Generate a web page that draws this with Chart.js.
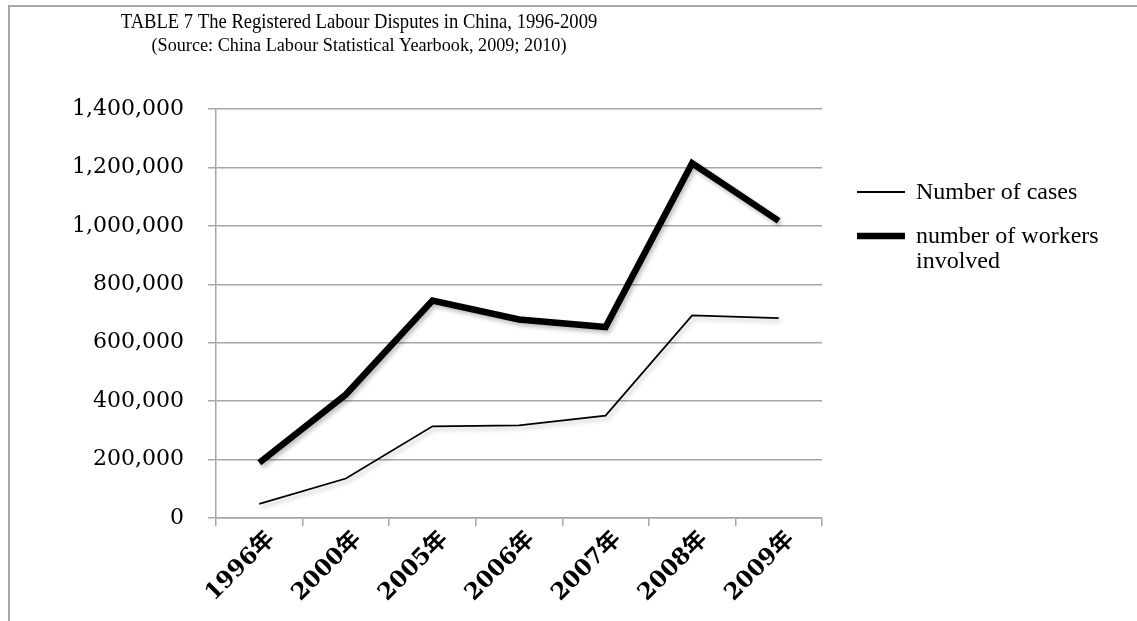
<!DOCTYPE html>
<html>
<head>
<meta charset="utf-8">
<title>Registered Labour Disputes in China</title>
<script src="https://cdn.jsdelivr.net/npm/chart.js@4/dist/chart.umd.min.js"></script>
<style>
  html, body { margin: 0; padding: 0; background: #fff; }
  #wrap { position: relative; width: 1137px; height: 621px; }
</style>
</head>
<body>
<div id="wrap"><canvas id="chart" width="1137" height="621"></canvas></div>
<script>
// data
const years = ['1996年', '2000年', '2005年', '2006年', '2007年', '2008年', '2009年'];
const cases = [48121, 135206, 313773, 317162, 350182, 693465, 684379];
const workers = [189120, 422617, 744195, 679312, 653472, 1214328, 1016922];
const seriesNames = ['Number of cases', ['number of workers', 'involved']];
const yMax = 1400000;
const yStep = 200000;
const titleLines = [
  'TABLE 7 The Registered Labour Disputes in China, 1996-2009',
  '(Source: China Labour Statistical Yearbook, 2009; 2010)'
];

const GRID = '#a6a6a6';
const SERIF = '"Liberation Serif", "Times New Roman", serif';

// texte un peu resserré horizontalement, comme dans l'original
function narrowText(ctx, text, x, y, size, squeeze) {
  ctx.save();
  ctx.font = size + 'px ' + SERIF;
  ctx.translate(x, y);
  ctx.scale(squeeze, 1);
  ctx.fillText(text, 0, 0);
  ctx.restore();
}

// cadre, titre et légende dessinés à la main
const decorPlugin = {
  id: 'decor',
  beforeDraw(chart) {
    const ctx = chart.ctx;
    ctx.save();
    ctx.strokeStyle = GRID;
    ctx.lineWidth = 2;
    ctx.beginPath();
    ctx.moveTo(9, 640);
    ctx.lineTo(9, 6);
    ctx.lineTo(1140, 6);
    ctx.stroke();
    ctx.restore();
  },
  afterDraw(chart) {
    const ctx = chart.ctx;
    ctx.save();
    ctx.fillStyle = '#000';
    ctx.textAlign = 'center';
    ctx.textBaseline = 'middle';
    narrowText(ctx, titleLines[0], 359, 22, 21, 0.886);
    narrowText(ctx, titleLines[1], 359, 46, 19.5, 0.933);

    // légende
    const rows = [193, 237];
    chart.data.datasets.forEach((ds, i) => {
      const y = rows[i];
      ctx.strokeStyle = ds.borderColor;
      ctx.lineWidth = ds.borderWidth;
      ctx.beginPath();
      ctx.moveTo(857, y - 1);
      ctx.lineTo(905, y - 1);
      ctx.stroke();
      ctx.font = '24px ' + SERIF;
      ctx.textAlign = 'left';
      const lines = Array.isArray(ds.label) ? ds.label : [ds.label];
      lines.forEach((t, k) => ctx.fillText(t, 916, y + k * 25));
    });
    ctx.restore();
  }
};

// ombre légère sous les courbes
const shadowPlugin = {
  id: 'lineShadow',
  beforeDatasetDraw(chart) {
    const ctx = chart.ctx;
    ctx.save();
    ctx.shadowColor = 'rgba(0,0,0,0.25)';
    ctx.shadowBlur = 4;
    ctx.shadowOffsetX = 2;
    ctx.shadowOffsetY = 3;
  },
  afterDatasetDraw(chart) {
    chart.ctx.restore();
  }
};

new Chart(document.getElementById('chart'), {
  type: 'line',
  data: {
    labels: years,
    datasets: [
      {
        label: seriesNames[0],
        data: cases,
        borderColor: '#000',
        borderWidth: 1.8,
        pointRadius: 0,
        tension: 0
      },
      {
        label: seriesNames[1],
        data: workers,
        borderColor: '#000',
        borderWidth: 6.5,
        borderJoinStyle: 'miter',
        pointRadius: 0,
        tension: 0
      }
    ]
  },
  options: {
    responsive: false,
    animation: false,
    layout: { padding: { top: 109, right: 315, left: 0, bottom: 0 } },
    plugins: {
      legend: { display: false },
      title: { display: false },
      tooltip: { enabled: false }
    },
    scales: {
      x: {
        offset: true,
        grid: {
          offset: true,
          drawOnChartArea: false,
          drawTicks: true,
          tickLength: 8,
          color: GRID,
          lineWidth: 1.5
        },
        border: { color: GRID, width: 1.5 },
        ticks: {
          minRotation: 45,
          maxRotation: 45,
          padding: 0,
          labelOffset: 12,
          color: '#000',
          font: { family: '"DejaVu Serif", "Noto Sans CJK SC", serif', size: 23, weight: 'bold' }
        },
        afterFit(scale) { scale.height = 103; }
      },
      y: {
        min: 0,
        max: yMax,
        grid: { color: GRID, lineWidth: 1.5, tickLength: 8 },
        border: { color: GRID, width: 1.5 },
        ticks: {
          stepSize: yStep,
          padding: 24,
          color: '#000',
          font: { family: '"DejaVu Serif", serif', size: 22 },
          callback: (v) => v.toLocaleString('en-US')
        },
        afterFit(scale) { scale.width = 216; }
      }
    }
  },
  plugins: [decorPlugin, shadowPlugin]
});
</script>
</body>
</html>
